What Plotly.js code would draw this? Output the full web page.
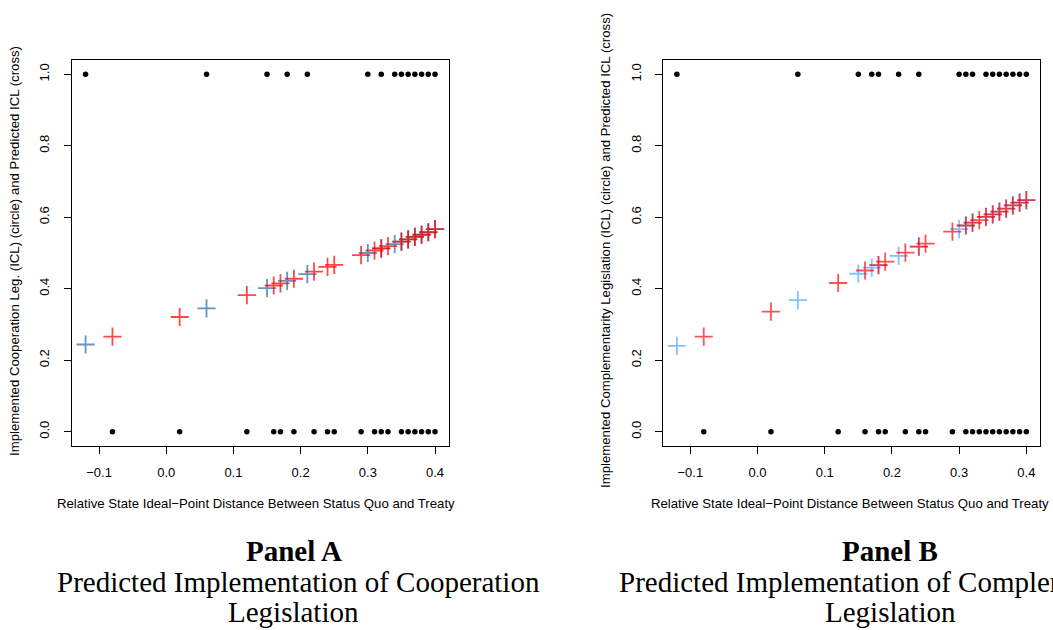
<!DOCTYPE html>
<html>
<head>
<meta charset="utf-8">
<script src="https://cdn.plot.ly/plotly-3.0.1.min.js"></script>
<style>html,body{margin:0;padding:0;background:#fff;}#chart{width:1053px;height:630px;}</style>
</head>
<body>
<div id="chart"></div>
<script>
// ---------- DATA ----------
// Panel A (Cooperation legislation)
const aOnesX   = [-0.12, 0.06, 0.15, 0.18, 0.21, 0.30, 0.32, 0.34, 0.35, 0.36, 0.37, 0.38, 0.39, 0.40];
const aOnesY   = [1,1,1,1,1,1,1,1,1,1,1,1,1,1];
const aOnesPred= [0.244, 0.345, 0.402, 0.422, 0.441, 0.500, 0.513, 0.525, 0.532, 0.538, 0.545, 0.551, 0.558, 0.567];
const aZerosX   = [-0.08, 0.02, 0.12, 0.16, 0.17, 0.19, 0.22, 0.24, 0.25, 0.29, 0.31, 0.32, 0.33, 0.35, 0.36, 0.37, 0.38, 0.39, 0.40];
const aZerosY   = [0,0,0,0,0,0,0,0,0,0,0,0,0,0,0,0,0,0,0];
const aZerosPred= [0.266, 0.321, 0.382, 0.409, 0.415, 0.428, 0.448, 0.461, 0.467, 0.494, 0.507, 0.513, 0.519, 0.532, 0.538, 0.545, 0.551, 0.558, 0.567];

// Panel B (Complementarity legislation)
const bOnesX   = [-0.12, 0.06, 0.15, 0.17, 0.18, 0.21, 0.24, 0.30, 0.31, 0.32, 0.34, 0.35, 0.36, 0.37, 0.38, 0.39, 0.40];
const bOnesY   = [1,1,1,1,1,1,1,1,1,1,1,1,1,1,1,1,1];
const bOnesPred= [0.240, 0.368, 0.442, 0.459, 0.466, 0.492, 0.518, 0.567, 0.577, 0.585, 0.601, 0.608, 0.616, 0.624, 0.633, 0.641, 0.648];
const bZerosX   = [-0.08, 0.02, 0.12, 0.16, 0.18, 0.19, 0.22, 0.24, 0.25, 0.29, 0.31, 0.32, 0.33, 0.34, 0.35, 0.36, 0.37, 0.38, 0.39, 0.40];
const bZerosY   = [0,0,0,0,0,0,0,0,0,0,0,0,0,0,0,0,0,0,0,0];
const bZerosPred= [0.266, 0.336, 0.416, 0.451, 0.466, 0.476, 0.501, 0.518, 0.526, 0.560, 0.577, 0.585, 0.592, 0.601, 0.608, 0.616, 0.624, 0.633, 0.641, 0.648];

const xTicks = [-0.1, 0.0, 0.1, 0.2, 0.3, 0.4];
const yTicks = [0.0, 0.2, 0.4, 0.6, 0.8, 1.0];
const xRange = [-0.1408, 0.4208];
const yRange = [-0.04, 1.04];

const xTitle = "Relative State Ideal\u2212Point Distance Between Status Quo and Treaty";
const aYTitle = "Implemented Cooperation Leg. (ICL) (circle) and Predicted ICL (cross)";
const bYTitle = "Implemented Complementarity Legislation (ICL) (circle) and Predicted ICL (cross)";
const aPanel = "Panel A", aLine1 = "Predicted Implementation of Cooperation", aLine2 = "Legislation";
const bPanel = "Panel B", bLine1 = "Predicted Implementation of Complementarity", bLine2 = "Legislation";

// ---------- LAYOUT HELPERS ----------
const W = 1053, H = 630;
const fx = p => p / W;
const fy = p => 1 - p / H;

const crossA_blue = 'rgba(70,130,180,0.85)';
const crossA_red  = 'rgba(255,0,0,0.72)';
const crossB_blue = 'rgba(30,144,255,0.55)';
const crossB_red  = 'rgba(255,0,0,0.68)';

function dots(x, y, xa, ya) {
  return {x, y, xaxis: xa, yaxis: ya, type: 'scatter', mode: 'markers',
    marker: {symbol: 'circle', size: 5.5, color: '#000'}, hoverinfo: 'skip', cliponaxis: false};
}
function crosses(x, y, xa, ya, col) {
  return {x, y, xaxis: xa, yaxis: ya, type: 'scatter', mode: 'markers',
    marker: {symbol: 'cross-thin', size: 13, color: col, line: {color: col, width: 1.8}},
    hoverinfo: 'skip', cliponaxis: false};
}

const traces = [
  dots(aOnesX, aOnesY, 'x', 'y'),
  dots(aZerosX, aZerosY, 'x', 'y'),
  crosses(aOnesX, aOnesPred, 'x', 'y', crossA_blue),
  crosses(aZerosX, aZerosPred, 'x', 'y', crossA_red),
  dots(bOnesX, bOnesY, 'x2', 'y2'),
  dots(bZerosX, bZerosY, 'x2', 'y2'),
  crosses(bOnesX, bOnesPred, 'x2', 'y2', crossB_blue),
  crosses(bZerosX, bZerosPred, 'x2', 'y2', crossB_red)
];

const tickFont = {family: 'Liberation Sans, Arial, sans-serif', size: 13, color: '#000'};
function xAx(domain, anchor) {
  return {domain, anchor, range: xRange, tickvals: xTicks, tickformat: '.1f',
    showgrid: false, zeroline: false, showline: true, mirror: true, linecolor: '#000', linewidth: 1,
    ticks: 'outside', ticklen: 7, tickwidth: 1, tickcolor: '#000', tickfont: tickFont, ticklabelstandoff: 7};
}
function yAx(domain, anchor) {
  return {domain, anchor, range: yRange, tickvals: yTicks, tickformat: '.1f', tickangle: -90,
    showgrid: false, zeroline: false, showline: true, mirror: true, linecolor: '#000', linewidth: 1,
    ticks: 'outside', ticklen: 7, tickwidth: 1, tickcolor: '#000', tickfont: tickFont, ticklabelstandoff: 9};
}

const serif = 'Liberation Serif, Times New Roman, serif';
const ann = [];
function txt(text, x, y, size, family, extra) {
  ann.push(Object.assign({text, x: fx(x), y: fy(y), xref: 'paper', yref: 'paper', showarrow: false,
    xanchor: 'center', yanchor: 'middle', font: {family, size, color: '#000'}}, extra || {}));
}
const sans = 'Liberation Sans, Arial, sans-serif';
// Panel A texts
txt(xTitle, 256, 503, 13.2, sans);
txt(aYTitle, 15, 251, 13.2, sans, {textangle: -90});
txt('<b>' + aPanel + '</b>', 294, 551, 29, serif);
txt(aLine1, 298, 582, 29, serif);
txt(aLine2, 293, 612, 29, serif);
// Panel B texts
txt(xTitle, 850, 503, 13.2, sans);
txt(bYTitle, 606, 251, 13.2, sans, {textangle: -90});
txt('<b>' + bPanel + '</b>', 890, 551, 29, serif);
txt(bLine1, 890, 582, 29, serif);
txt(bLine2, 890, 612, 29, serif);

const layout = {
  width: W, height: H, margin: {l: 0, r: 0, t: 0, b: 0, pad: 0},
  paper_bgcolor: '#fff', plot_bgcolor: '#fff', showlegend: false, hovermode: false,
  xaxis: xAx([fx(71.6), fx(449)], 'y'),
  yaxis: yAx([fy(446), fy(60)], 'x'),
  xaxis2: xAx([fx(662.9), fx(1040.3)], 'y2'),
  yaxis2: yAx([fy(446), fy(60)], 'x2'),
  annotations: ann
};

Plotly.newPlot('chart', traces, layout, {staticPlot: true, displayModeBar: false});
</script>
</body>
</html>
